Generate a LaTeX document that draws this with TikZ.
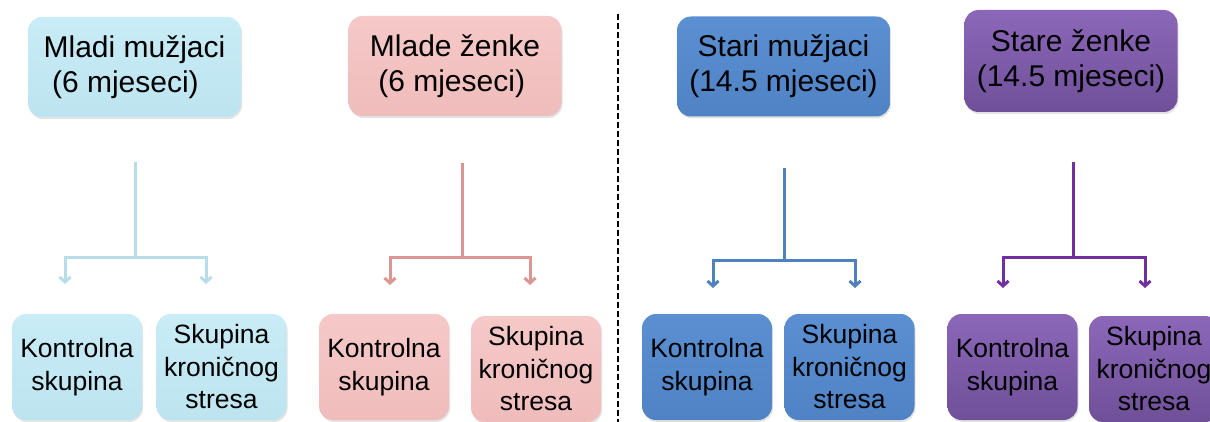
\documentclass[tikz,border=0pt]{standalone}
\usepackage{fontspec}
\setmainfont{Liberation Sans}
\usetikzlibrary{arrows.meta,shadows}

\definecolor{ymtop}{HTML}{C9ECF6}
\definecolor{ymbot}{HTML}{BCE4F0}
\definecolor{yftop}{HTML}{F5C9C8}
\definecolor{yfbot}{HTML}{EFBCBB}
\definecolor{omtop}{HTML}{5A8FD2}
\definecolor{ombot}{HTML}{4F83C4}
\definecolor{oftop}{HTML}{8C67B9}
\definecolor{ofbot}{HTML}{6F5098}
\definecolor{ymline}{HTML}{B7DDE8}
\definecolor{yfline}{HTML}{D99694}
\definecolor{omline}{HTML}{4F81BD}
\definecolor{ofline}{HTML}{7030A0}

\begin{document}
\begin{tikzpicture}[x=1pt,y=-1pt,
        box/.style={rounded corners=14pt, inner sep=0pt,
          drop shadow={opacity=0.22,shadow xshift=1pt,shadow yshift=-2pt}},
        agebox/.style={box, minimum width=213pt, minimum height=100pt,
          font=\fontsize{30}{35}\selectfont},
        subbox/.style={box, minimum width=130pt, minimum height=106pt,
          align=center, font=\fontsize{26.5}{32.5}\selectfont},
        youngm/.style={top color=ymtop, bottom color=ymbot},
        youngf/.style={top color=yftop, bottom color=yfbot},
        oldm/.style={top color=omtop, bottom color=ombot},
        oldf/.style={top color=oftop, bottom color=ofbot},
        link/.style={line width=3pt, draw=#1},
        fork/.style={link=#1, -{Straight Barb[length=5pt,width=11pt]}}]
        \useasboundingbox (0,0) rectangle (1210,422);

        % age groups
        \node[agebox, youngm, align=left] (ym) at (134.5,67)
          {Mladi mužjaci\\\hspace*{0.28em}(6 mjeseci)};
        \node[agebox, youngf, align=left] (yf) at (455,66)
          {Mlade ženke\\\hspace*{0.28em}(6 mjeseci)};
        \node[agebox, oldm, align=center] (om) at (783.5,66.5)
          {Stari mužjaci\\(14.5 mjeseci)};
        \node[agebox, oldf, align=center, minimum height=102pt] (of) at (1071,61)
          {Stare ženke\\(14.5 mjeseci)};

        % experimental groups
        \node[subbox, youngm] (ym-c) at (77,367) {Kontrolna\\skupina};
        \node[subbox, youngm] (ym-s) at (221.5,367) {Skupina\\kroničnog\\stresa};
        \node[subbox, youngf] (yf-c) at (384,367) {Kontrolna\\skupina};
        \node[subbox, youngf] (yf-s) at (536,369) {Skupina\\kroničnog\\stresa};
        \node[subbox, oldm] (om-c) at (707,367) {Kontrolna\\skupina};
        \node[subbox, oldm] (om-s) at (849.5,367) {Skupina\\kroničnog\\stresa};
        \node[subbox, oldf] (of-c) at (1012.5,367) {Kontrolna\\skupina};
        \node[subbox, oldf] (of-s) at (1154,369) {Skupina\\kroničnog\\stresa};

        % forks
        \coordinate (ym-top) at (135,162);  \coordinate (ym-bar) at (135,257);
        \coordinate (ym-l) at (65,284);     \coordinate (ym-r) at (206,284);
        \coordinate (yf-top) at (462,163);  \coordinate (yf-bar) at (462,257);
        \coordinate (yf-l) at (390,285);    \coordinate (yf-r) at (530,285);
        \coordinate (om-top) at (784,168);  \coordinate (om-bar) at (784,260);
        \coordinate (om-l) at (713,288);    \coordinate (om-r) at (855,288);
        \coordinate (of-top) at (1073,162); \coordinate (of-bar) at (1073,257);
        \coordinate (of-l) at (1003,288);   \coordinate (of-r) at (1145,288);

        \foreach \g/\c in {ym/ymline, yf/yfline, om/omline, of/ofline}{
          \draw[link=\c] (\g-top) -- (\g-bar);
          \draw[fork=\c] (\g-bar) -| (\g-l);
          \draw[fork=\c] (\g-bar) -| (\g-r);
        }

        % young | old
        \draw[line width=1.5pt, dash pattern=on 6pt off 3pt] (618,14) -- (618,422);
\end{tikzpicture}
\end{document}
